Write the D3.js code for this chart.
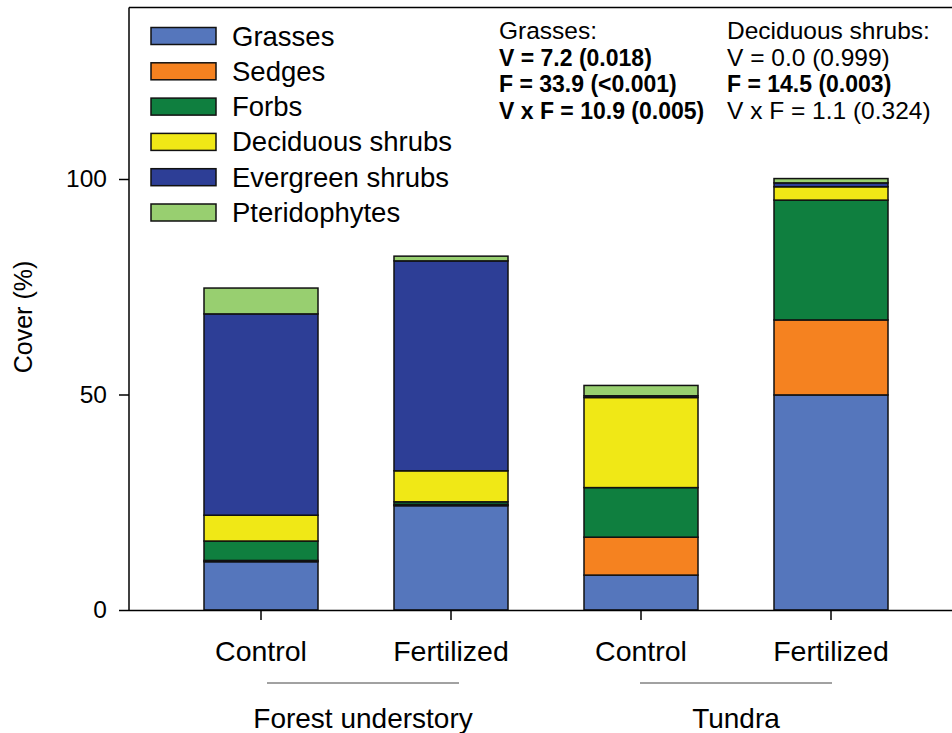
<!DOCTYPE html>
<html><head><meta charset="utf-8">
<script src="https://cdn.jsdelivr.net/npm/d3@7"></script>
<style>body{margin:0;background:#fff}svg{display:block}text{font-family:"Liberation Sans",Arial,sans-serif;fill:#000}</style>
</head><body><svg id="c" width="952" height="733"></svg>
<script>
const bars = ["Forest Control","Forest Fertilized","Tundra Control","Tundra Fertilized"];
const barLabels = ["Control","Fertilized","Control","Fertilized"];
const groups = ["Forest understory","Tundra"];
const species = ["Grasses","Sedges","Forbs","Deciduous shrubs","Evergreen shrubs","Pteridophytes"];
const colors = ["#5576bc","#f58220","#0f7f3f","#f0e816","#2d3e96","#98cf70"];
const grasses   = [11.2, 24.2, 8.1, 49.9];
const sedges    = [0.3, 0.3, 8.8, 17.4];
const forbs     = [4.5, 0.6, 11.5, 27.8];
const deciduous = [6.0, 7.2, 20.9, 3.1];
const evergreen = [46.7, 48.7, 0.4, 0.9];
const pterido   = [6.0, 1.1, 2.4, 1.0];
const yTicks = [0, 50, 100];
const statsGrasses = [["Grasses:",false],["V = 7.2 (0.018)",true],["F = 33.9 (<0.001)",true],["V x F = 10.9 (0.005)",true]];
const statsDecid = [["Deciduous shrubs:",false],["V = 0.0 (0.999)",false],["F = 14.5 (0.003)",true],["V x F = 1.1 (0.324)",false]];

const svg = d3.select("#c");
const series = [grasses, sedges, forbs, deciduous, evergreen, pterido];
const data = bars.map((b,i)=>{const o={bar:b}; species.forEach((s,j)=>o[s]=series[j][i]); return o;});
const stack = d3.stack().keys(species)(data);

const x = d3.scaleBand().domain(bars).range([166, 926]).paddingInner(0.4).paddingOuter(0.2);
const y = d3.scaleLinear().domain([0, 100]).range([610, 179]);
const x0 = 129;

// axes
const ya = svg.append("g").attr("transform",`translate(${x0},0)`)
  .call(d3.axisLeft(y).tickValues(yTicks).tickSize(10).tickPadding(12));
ya.select(".domain").remove();
ya.selectAll("text").style("font-size","24.5px").attr("font-family","Liberation Sans");
ya.selectAll("line").attr("stroke-width",1.5);
svg.append("line").attr("x1",x0).attr("x2",x0).attr("y1",y(0)).attr("y2",y(139.8)).attr("stroke","#000").attr("stroke-width",1.5);
svg.append("line").attr("x1",x0).attr("x2",952).attr("y1",y(139.8)).attr("y2",y(139.8)).attr("stroke","#000").attr("stroke-width",1.5);

// bars
svg.append("g").selectAll("g").data(stack).join("g").attr("fill",(d,i)=>colors[i])
  .selectAll("rect").data(d=>d).join("rect")
  .attr("x",d=>x(d.data.bar)).attr("width",x.bandwidth())
  .attr("y",d=>y(d[1])).attr("height",d=>y(d[0])-y(d[1]))
  .attr("stroke","#111").attr("stroke-width",1.5);

// x axis
const xa = svg.append("g").attr("transform",`translate(0,${y(0)})`)
  .call(d3.axisBottom(x).tickSize(10).tickPadding(21).tickFormat((d,i)=>barLabels[i]));
xa.select(".domain").attr("d",`M${x0},0.5H952`).attr("stroke-width",1.5);
xa.selectAll("line").attr("stroke-width",1.5);
xa.selectAll("text").style("font-size","28.5px").attr("font-family","Liberation Sans");

// group lines and labels
const shifts = [7, 0];
groups.forEach((g,i)=>{
  const c = (x(bars[2*i]) + x(bars[2*i+1]) + x.bandwidth())/2;
  svg.append("line").attr("x1",c+shifts[i]-96).attr("x2",c+shifts[i]+96).attr("y1",683).attr("y2",683).attr("stroke","#444").attr("stroke-width",1);
  svg.append("text").attr("x",c+shifts[i]).attr("y",728).attr("text-anchor","middle").style("font-size","28px").text(g);
});

// y title
svg.append("text").attr("transform","translate(32,317) rotate(-90)").attr("text-anchor","middle").style("font-size","25px").text("Cover (%)");

// legend
const lg = svg.append("g");
species.forEach((s,i)=>{
  const cy = 36 + i*35.3;
  lg.append("rect").attr("x",151).attr("y",cy-8.5).attr("width",65).attr("height",17).attr("fill",colors[i]).attr("stroke","#111").attr("stroke-width",1.5);
  lg.append("text").attr("x",232).attr("y",cy+9.5).style("font-size","27.5px").text(s);
});

// stats
function stats(arr, x1){
  arr.forEach((d,i)=>{
    svg.append("text").attr("x",x1).attr("y",39+i*26.6).style("font-size",d[1]?"23px":"24.5px")
      .style("font-weight",d[1]?"bold":"normal").text(d[0]);
  });
}
stats(statsGrasses, 499);
stats(statsDecid, 727);
</script></body></html>
